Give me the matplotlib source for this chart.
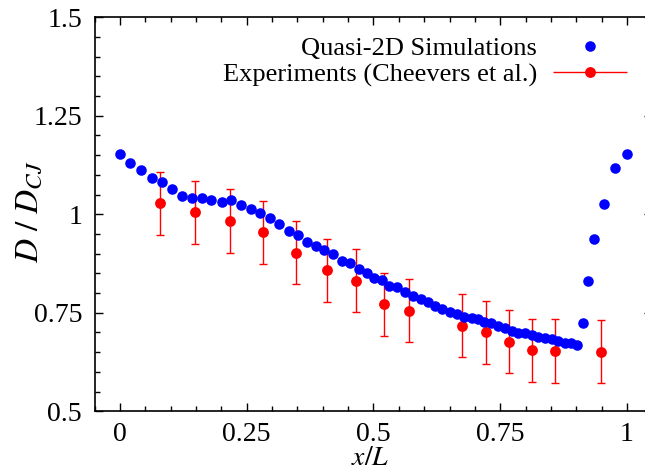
import matplotlib
matplotlib.use("Agg")
import matplotlib.pyplot as plt
from matplotlib.ticker import MultipleLocator, FormatStrFormatter
from matplotlib.legend_handler import HandlerErrorbar
from matplotlib.container import ErrorbarContainer

plt.rcParams['font.family'] = ['Liberation Serif', 'DejaVu Serif']
plt.rcParams['mathtext.fontset'] = 'stix'

# Quasi-2D simulation points (x/L, D/DCJ)
sim_x = [0.0, 0.0203, 0.0420, 0.0625, 0.0828, 0.1032, 0.1223, 0.1420, 0.1617, 0.1801,
         0.2006, 0.2195, 0.2381, 0.2578, 0.2761, 0.2959, 0.3142, 0.3333, 0.3505, 0.3682,
         0.3860, 0.4030, 0.4195, 0.4373, 0.4536, 0.4708, 0.4866, 0.5016, 0.5162, 0.5312,
         0.5469, 0.5621, 0.5785, 0.5937, 0.6081, 0.6213, 0.6357, 0.6509, 0.6641, 0.6791,
         0.6937, 0.7067, 0.7186, 0.7318, 0.7450, 0.7594, 0.7726, 0.7856, 0.7988, 0.8120,
         0.8250, 0.8383, 0.8515, 0.8645, 0.8777, 0.8886, 0.9004, 0.9126, 0.9237, 0.9355,
         0.9540, 0.9769, 0.9994]
sim_d = [1.152, 1.129, 1.112, 1.091, 1.081, 1.063, 1.047, 1.041, 1.041, 1.036,
         1.030, 1.036, 1.024, 1.013, 1.003, 0.991, 0.975, 0.958, 0.947, 0.930,
         0.920, 0.909, 0.898, 0.881, 0.876, 0.862, 0.850, 0.838, 0.833, 0.818,
         0.816, 0.804, 0.793, 0.785, 0.778, 0.766, 0.759, 0.753, 0.746, 0.740,
         0.736, 0.733, 0.727, 0.723, 0.717, 0.711, 0.705, 0.699, 0.699, 0.694,
         0.689, 0.685, 0.683, 0.678, 0.674, 0.673, 0.667, 0.723, 0.831, 0.937,
         1.025, 1.118, 1.152]

# Experiments (Cheevers et al.)
exp_x = [0.0789, 0.1485, 0.2170, 0.2826, 0.3470, 0.4077, 0.4655, 0.5213, 0.5706,
         0.6739, 0.7219, 0.7679, 0.8132, 0.8580, 0.9481]
exp_d = [1.028, 1.005, 0.983, 0.954, 0.903, 0.858, 0.831, 0.772, 0.755,
         0.717, 0.701, 0.677, 0.655, 0.653, 0.651]
exp_err = [0.08] * len(exp_x)

fig = plt.figure(figsize=(6.45, 4.7), dpi=100)
ax = fig.add_axes([0.1467, 0.1249, 0.8647, 0.8383])

h_sim, = ax.plot(sim_x, sim_d, 'o', color='#0000ff', ms=7.6, mec='none', zorder=3)
ax.errorbar(exp_x, exp_d, yerr=exp_err, fmt='o', color='#ff0000', ms=7.8, mec='none',
            ecolor='#ff0000', elinewidth=1.0, capsize=3.2, capthick=1.0, zorder=2)

# proxy with a horizontal bar for the legend sample (gnuplot style)
h_exp = ax.errorbar([], [], xerr=[], fmt='o', color='#ff0000', ms=7.8, mec='none',
                    ecolor='#ff0000', elinewidth=1.0, capsize=5.5, capthick=1.0)

ax.set_xlim(-0.05, 1.05)
ax.set_ylim(0.5, 1.5)
ax.xaxis.set_major_locator(MultipleLocator(0.25))
ax.xaxis.set_minor_locator(MultipleLocator(0.05))
ax.yaxis.set_major_locator(MultipleLocator(0.25))
ax.yaxis.set_minor_locator(MultipleLocator(0.05))
ax.xaxis.set_major_formatter(FormatStrFormatter('%g'))
ax.yaxis.set_major_formatter(FormatStrFormatter('%g'))

ax.tick_params(which='both', direction='in', top=True, right=True, width=1.0, labelsize=20)
ax.tick_params(which='major', length=6)
ax.tick_params(which='minor', length=3.5)
ax.tick_params(axis='y', pad=9)
ax.tick_params(axis='x', pad=8)
for s in ax.spines.values():
    s.set_linewidth(1.2)

ax.set_xlabel(r'$x/L$', fontsize=20)
ax.xaxis.set_label_coords(0.4937, -0.088)
ax.set_ylabel(r'$D\ /\ D_{CJ}$', fontsize=24)
ax.yaxis.set_label_coords(-0.09, 0.506)

leg = ax.legend([h_sim, h_exp], ['Quasi-2D Simulations', 'Experiments (Cheevers et al.)'],
                loc='upper right', bbox_to_anchor=(0.9885, 0.945),
                bbox_transform=fig.transFigure, frameon=False,
                markerfirst=False, fontsize=19, handlelength=2.8, handletextpad=0.6,
                labelspacing=0.12, borderaxespad=0.0, alignment='right',
                handler_map={ErrorbarContainer: HandlerErrorbar(xerr_size=1.4)})

fig.savefig('out.png', dpi=100)
